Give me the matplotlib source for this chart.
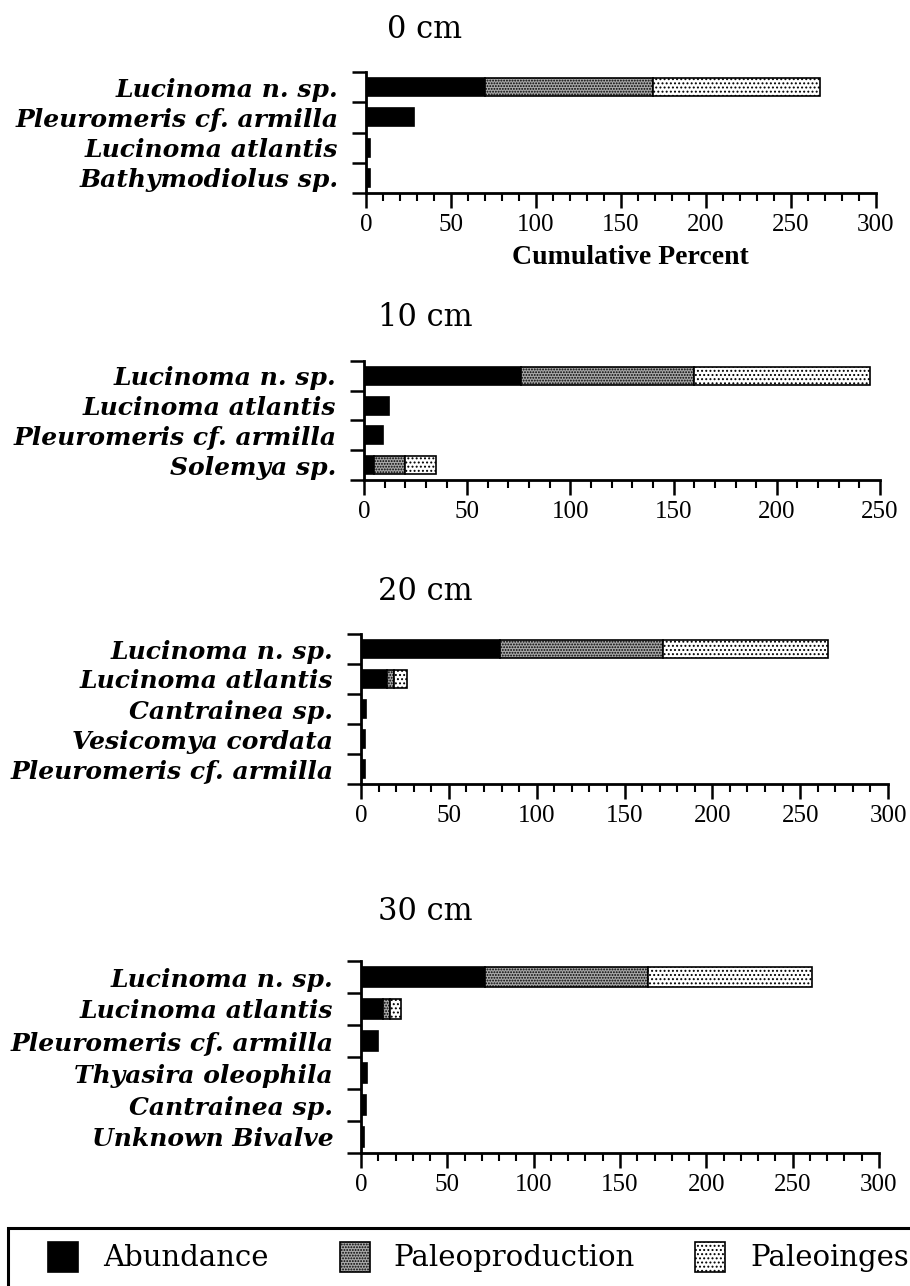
import matplotlib
matplotlib.use("Agg")
import matplotlib.pyplot as plt
from matplotlib.patches import Rectangle
from matplotlib.ticker import MultipleLocator, FixedLocator
import numpy as np

# ---- data: cumulative percent per species, by sediment depth ----
species_0 = ["Lucinoma n. sp.", "Pleuromeris cf. armilla", "Lucinoma atlantis", "Bathymodiolus sp."]
abund_0 = [70, 28, 2.5, 2.5]
prod_0 = [99, 0, 0, 0]
inges_0 = [98, 0, 0, 0]

species_10 = ["Lucinoma n. sp.", "Lucinoma atlantis", "Pleuromeris cf. armilla", "Solemya sp."]
abund_10 = [76, 12, 9, 5]
prod_10 = [84, 0, 0, 15]
inges_10 = [85, 0, 0, 15]

species_20 = ["Lucinoma n. sp.", "Lucinoma atlantis", "Cantrainea sp.", "Vesicomya cordata",
              "Pleuromeris cf. armilla"]
abund_20 = [79, 15, 3, 2, 2]
prod_20 = [93, 4, 0, 0, 0]
inges_20 = [94, 7, 0, 0, 0]

species_30 = ["Lucinoma n. sp.", "Lucinoma atlantis", "Pleuromeris cf. armilla", "Thyasira oleophila",
              "Cantrainea sp.", "Unknown Bivalve"]
abund_30 = [72, 13, 10, 3.5, 3, 2]
prod_30 = [94, 4, 0, 0, 0, 0]
inges_30 = [95, 6, 0, 0, 0, 0]

depth_titles = ["0 cm", "10 cm", "20 cm", "30 cm"]
x_limits = [300, 250, 300, 300]
series_names = ["Abundance", "Paleoproduction", "Paleoinges"]

W, H = 910, 1286
plt.rcParams["hatch.linewidth"] = 0.9
plt.rcParams["hatch.color"] = "black"

PROD_STYLE = dict(facecolor="#a8a8a8", hatch="......")
INGES_STYLE = dict(facecolor="white", hatch="....")

fig = plt.figure(figsize=(W / 100, H / 100), dpi=100)


def box(x0, x1, ytop, ybot):
    return [x0 / W, 1 - ybot / H, (x1 - x0) / W, (ybot - ytop) / H]


# pixel layout of the four panels: (left, right, top, bottom, title_y)
layout = [
    (366, 876, 72, 193, 29),
    (364, 880, 361, 480, 318),
    (361, 888, 634, 784, 591),
    (361, 879, 961, 1153, 912),
]

panels = [
    (species_0, abund_0, prod_0, inges_0),
    (species_10, abund_10, prod_10, inges_10),
    (species_20, abund_20, prod_20, inges_20),
    (species_30, abund_30, prod_30, inges_30),
]

label_font = dict(family="DejaVu Serif", fontsize=18, fontweight="bold", fontstyle="italic")
tick_font = dict(family="Liberation Serif", fontsize=18)

for (names, ab, pr, ing), (x0, x1, yt, yb, ty), title, xmax in zip(panels, layout, depth_titles, x_limits):
    ax = fig.add_axes(box(x0, x1, yt, yb))
    y = np.arange(len(names))
    ab = np.array(ab, float)
    pr = np.array(pr, float)
    ing = np.array(ing, float)
    h = 0.6
    ax.barh(y, ab, height=h, color="black", edgecolor="black", linewidth=1.2)
    m = pr > 0
    ax.barh(y[m], pr[m], left=ab[m], height=h, edgecolor="black", linewidth=1.2, **PROD_STYLE)
    m = ing > 0
    ax.barh(y[m], ing[m], left=(ab + pr)[m], height=h, edgecolor="black", linewidth=1.2,
            **INGES_STYLE)

    ax.set_xlim(0, xmax)
    ax.set_ylim(len(names) - 0.5, -0.5)
    for s in ("top", "right"):
        ax.spines[s].set_visible(False)
    for s in ("left", "bottom"):
        ax.spines[s].set_linewidth(2.0)

    ax.xaxis.set_major_locator(MultipleLocator(50))
    ax.xaxis.set_minor_locator(MultipleLocator(10))
    ax.tick_params(axis="x", which="major", length=11, width=1.8, direction="out", pad=4)
    ax.tick_params(axis="x", which="minor", length=6, width=1.5, direction="out")
    for lab in ax.get_xticklabels():
        lab.set_fontfamily(tick_font["family"])
        lab.set_fontsize(tick_font["fontsize"])

    ax.set_yticks(y)
    ax.set_yticklabels(names, **label_font)
    ax.yaxis.set_minor_locator(FixedLocator(np.arange(len(names) + 1) - 0.5))
    ax.tick_params(axis="y", which="major", length=0, pad=20)
    ax.tick_params(axis="y", which="minor", length=10, width=1.8, direction="out")

    fig.text(425 / W, 1 - ty / H, title, ha="center", va="center",
             family="DejaVu Serif", fontsize=22)

fig.text(630 / W, 1 - 258 / H, "Cumulative Percent", ha="center", va="center",
         family="Liberation Serif", fontsize=20, fontweight="bold")

# ---- legend strip along the bottom ----
fig.patches.append(Rectangle((8 / W, 1 - 1300 / H), 920 / W, 72 / H, transform=fig.transFigure,
                             facecolor="white", edgecolor="black", linewidth=2.2, zorder=0))
legend_items = [
    (48, 103, dict(facecolor="black", hatch=None)),
    (340, 393, PROD_STYLE),
    (695, 750, INGES_STYLE),
]
for name, (sx, tx, style) in zip(series_names, legend_items):
    fig.patches.append(Rectangle((sx / W, 1 - 1272 / H), 30 / W, 30 / H, transform=fig.transFigure,
                                 edgecolor="black", linewidth=1.2, zorder=2, **style))
    fig.text(tx / W, 1 - 1258 / H, name, ha="left", va="center",
             family="DejaVu Serif", fontsize=21)

fig.savefig("out.png", dpi=100)
